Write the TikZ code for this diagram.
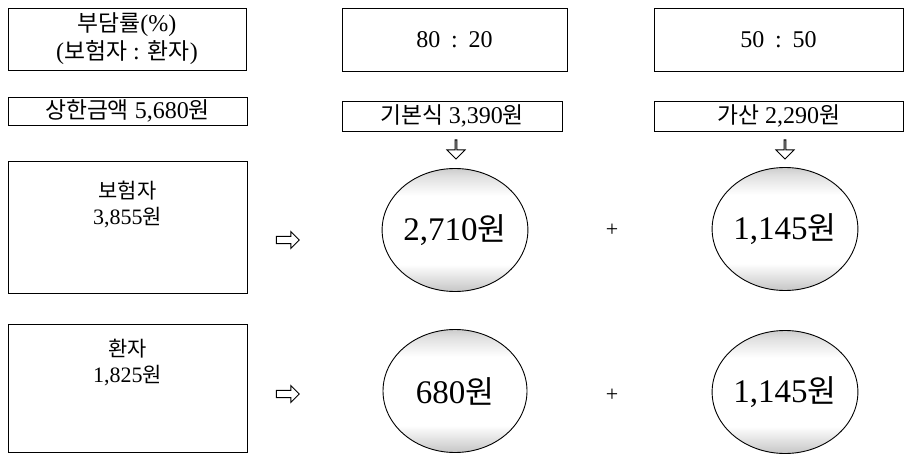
\documentclass[tikz,border=0pt]{standalone}
\usepackage{fontspec}
\setmainfont{Liberation Serif}
\newfontfamily\kr[Scale=0.95]{Noto Sans CJK KR}
\usetikzlibrary{shapes.geometric,shapes.arrows}
\pgfdeclareverticalshading{ovalshade}{100bp}{color(0bp)=(gray!45); color(25bp)=(gray!45); color(36bp)=(white); color(64bp)=(white); color(72bp)=(gray!25); color(75bp)=(gray!40); color(100bp)=(gray!40)}
\tikzset{
  box/.style={draw, line width=0.9pt, inner sep=0pt, align=center},
  hdr/.style={font=\fontsize{24}{28}\selectfont},
  mid/.style={font=\fontsize{22}{26}\selectfont, align=center},
  oval/.style={ellipse, draw, line width=0.9pt, inner sep=0pt,
    minimum width=144pt, minimum height=123pt,
    shading=ovalshade,
    font=\fontsize{33}{36}\selectfont},
  rarrow/.style={single arrow, draw, fill=white, line width=0.9pt,
    inner xsep=0pt, inner ysep=3pt, minimum height=23pt, minimum width=17pt,
    single arrow head extend=4.5pt},
  darrow/.style={rarrow, shape border rotate=270, minimum height=19pt, minimum width=18pt},
  plus/.style={font=\fontsize{22}{26}\selectfont}
}
\begin{document}
\begin{tikzpicture}[x=1pt,y=-1pt]
\useasboundingbox (0,0) rectangle (909,454);
% header row
\node[box, hdr, minimum width=238pt, minimum height=62pt] (b1) at (127,39)
  {{\kr 부담률}(\%)\\({\kr 보험자} : {\kr 환자})};
\node[box, hdr, minimum width=225pt, minimum height=63pt] (b2) at (454.5,39.5) {80\hspace{0.45em}:\hspace{0.45em}20};
\node[box, hdr, minimum width=249pt, minimum height=63pt] (b3) at (778.5,39.5) {50\hspace{0.45em}:\hspace{0.45em}50};
% amount row
\node[box, hdr, minimum width=239pt, minimum height=28pt] (c1) at (127.5,111) {{\kr 상한금액} 5,680{\kr 원}};
\node[box, hdr, minimum width=220pt, minimum height=30pt] (c2) at (452,116) {{\kr 기본식} 3,390{\kr 원}};
\node[box, hdr, minimum width=249pt, minimum height=30pt] (c3) at (778.5,116) {{\kr 가산} 2,290{\kr 원}};
% down arrows
\node[darrow] (a1) at (456,149) {};
\node[darrow] (a2) at (785,149) {};
% left boxes
\node[box, minimum width=239pt, minimum height=132pt] (d1) at (127.5,227) {};
\node[mid] (d1t) at (127.5,204) {{\kr 보험자}\\3,855{\kr 원}};
\node[box, minimum width=239pt, minimum height=128pt] (d2) at (127.5,388) {};
\node[mid] (d2t) at (127.5,363) {{\kr 환자}\\1,825{\kr 원}};
% right arrows
\node[rarrow] (r1) at (286,240) {};
\node[rarrow] (r2) at (286,394) {};
% ovals
\node[oval] (e1) at (455,230) {2,710{\kr 원}};
\node[oval] (e2) at (785,229) {1,145{\kr 원}};
\node[oval] (e3) at (455,391) {680{\kr 원}};
\node[oval] (e4) at (785,392) {1,145{\kr 원}};
% plus signs
\node[plus] (p1) at (612,230) {+};
\node[plus] (p2) at (612,395) {+};
\end{tikzpicture}
\end{document}
